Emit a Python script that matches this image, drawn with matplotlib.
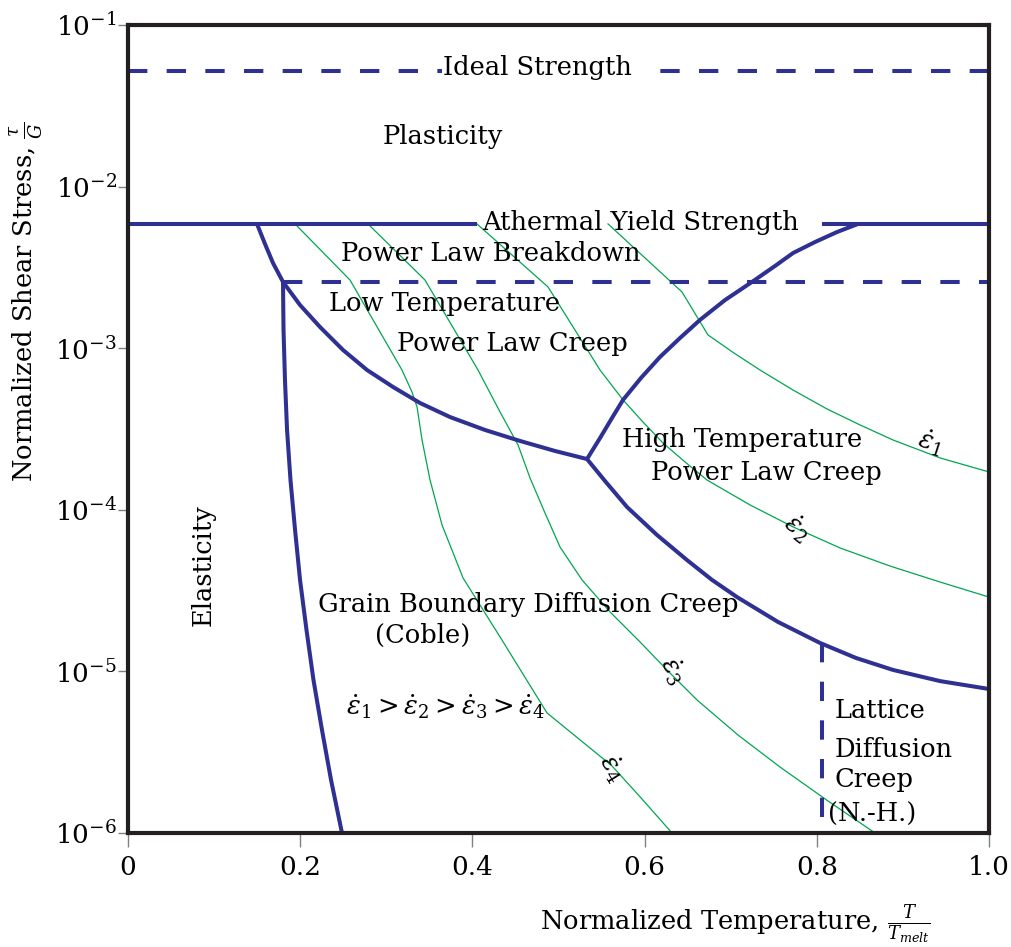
import numpy as np
import matplotlib
matplotlib.use("Agg")
import matplotlib.pyplot as plt
from matplotlib.ticker import NullLocator

plt.rcParams["font.family"] = ["DejaVu Serif"]
plt.rcParams["mathtext.fontset"] = "dejavuserif"

BLUE = "#2e3192"
GREEN = "#00a651"
INK = "#231f20"

# x is T/Tmelt, y values are log10(tau/G)
ideal_logy = -1.285
athermal_logy = -2.231
breakdown_logy = -2.590
ideal_left_x = [0.0, 0.365]
ideal_right_x = [0.615, 1.0]
athermal_left_x = [0.0, 0.405]
athermal_right_x = [0.806, 1.0]
breakdown_x = [0.18, 1.0]

elastic_x = [0.1800, 0.1806, 0.1823, 0.1847, 0.1887, 0.1940, 0.1998,
             0.2073, 0.2154, 0.2253, 0.2358, 0.2485]
elastic_logy = [-2.590, -2.887, -3.197, -3.506, -3.816, -4.125, -4.434,
                -4.744, -5.053, -5.363, -5.672, -6.0]

low_temp_x = [0.1498, 0.1591, 0.1684, 0.1800, 0.1998, 0.2230, 0.2497, 0.2776,
              0.3078, 0.3391, 0.3740, 0.4146, 0.4553, 0.4959, 0.5331]
low_temp_logy = [-2.231, -2.355, -2.473, -2.590, -2.733, -2.869, -3.011, -3.135,
                 -3.240, -3.339, -3.426, -3.506, -3.574, -3.636, -3.686]

high_upper_x = [0.5331, 0.5482, 0.5621, 0.5749, 0.5958, 0.6179, 0.6411, 0.6643,
                0.6934, 0.7247, 0.7515, 0.7724, 0.7979, 0.8235, 0.8479]
high_upper_logy = [-3.686, -3.556, -3.432, -3.320, -3.184, -3.054, -2.937, -2.825,
                   -2.702, -2.590, -2.491, -2.411, -2.343, -2.281, -2.231]

high_lower_x = [0.5331, 0.5540, 0.5796, 0.6144, 0.6492, 0.6783, 0.7073,
                0.7549, 0.8037, 0.8455, 0.8885, 0.9431, 1.0]
high_lower_logy = [-3.686, -3.822, -3.983, -4.156, -4.311, -4.434, -4.540,
                   -4.694, -4.824, -4.917, -4.991, -5.060, -5.109]

lattice_x = [0.806, 0.806]
lattice_logy = [-4.826, -6.0]

# strain-rate contours, fastest (1) to slowest (4)
rate1_x = [0.5575, 0.6434, 0.6736, 0.7038, 0.7340, 0.7724, 0.8118,
           0.8502, 0.8885, 0.9431, 1.0]
rate1_logy = [-2.231, -2.652, -2.918, -3.030, -3.135, -3.259, -3.376,
              -3.475, -3.568, -3.679, -3.766]

rate2_x = [0.4053, 0.4878, 0.5482, 0.5749, 0.5981, 0.6214, 0.6469, 0.6725,
           0.7224, 0.7724, 0.8269, 0.8850, 0.9431, 1.0]
rate2_logy = [-2.231, -2.621, -3.135, -3.320, -3.457, -3.587, -3.704, -3.816,
              -3.970, -4.106, -4.236, -4.348, -4.447, -4.540]

rate3_x = [0.2787, 0.3449, 0.4065, 0.4321, 0.4530, 0.4669, 0.4843, 0.5017,
           0.5273, 0.5598, 0.5947, 0.6272, 0.6609, 0.7085, 0.7573, 0.8130, 0.8676]
rate3_logy = [-2.231, -2.578, -3.135, -3.395, -3.599, -3.803, -4.020, -4.230,
              -4.434, -4.632, -4.818, -4.998, -5.177, -5.394, -5.592, -5.802, -6.0]

rate4_x = [0.1940, 0.2578, 0.3182, 0.3298, 0.3357, 0.3415, 0.3508, 0.3647,
           0.3891, 0.4321, 0.4866, 0.5250, 0.5621, 0.5970, 0.6318]
rate4_logy = [-2.231, -2.578, -3.135, -3.271, -3.364, -3.568, -3.816, -4.094,
              -4.422, -4.787, -5.257, -5.424, -5.585, -5.790, -6.0]

x_ticks = [0.0, 0.2, 0.4, 0.6, 0.8, 1.0]
x_tick_labels = ["0", "0.2", "0.4", "0.6", "0.8", "1.0"]
y_ticks = [1e-6, 1e-5, 1e-4, 1e-3, 1e-2, 1e-1]


def p(v):
    return 10 ** np.asarray(v, dtype=float)


fig = plt.figure(figsize=(10.12, 9.47), dpi=100)
ax = fig.add_axes([0.1265, 0.1204, 0.8508, 0.8532])
ax.set_yscale("log")
ax.set_xlim(0, 1)
ax.set_ylim(1e-6, 1e-1)

FS = 18.5
bold = dict(color=BLUE, lw=2.9, solid_capstyle="butt", solid_joinstyle="round")
dash = dict(color=BLUE, lw=2.9, dashes=(4.8, 4.8), dash_capstyle="butt")
thin = dict(color=GREEN, lw=0.9)

# green strain-rate contours
for xs, ys in [(rate1_x, rate1_logy), (rate2_x, rate2_logy),
               (rate3_x, rate3_logy), (rate4_x, rate4_logy)]:
    ax.plot(xs, p(ys), **thin)

# mechanism boundaries
ax.plot(ideal_left_x, p([ideal_logy] * 2), **dash)
ax.plot(ideal_right_x[::-1], p([ideal_logy] * 2), **dash)
ax.plot(athermal_left_x, p([athermal_logy] * 2), **bold)
ax.plot(athermal_right_x, p([athermal_logy] * 2), **bold)
ax.plot(breakdown_x, p([breakdown_logy] * 2), **dash)
ax.plot(elastic_x, p(elastic_logy), **bold)
ax.plot(low_temp_x, p(low_temp_logy), **bold)
ax.plot(high_upper_x, p(high_upper_logy), **bold)
ax.plot(high_lower_x, p(high_lower_logy), **bold)
ax.plot(lattice_x, p(lattice_logy), **dash)


def label(x, ly, s, **kw):
    kw.setdefault("ha", "center")
    kw.setdefault("va", "center")
    ax.text(x, 10 ** ly, s, fontsize=FS, color="black", **kw)


# region labels
label(0.476, -1.266, "Ideal Strength")
label(0.366, -1.687, "Plasticity")
label(0.5947, -2.22, "Athermal Yield Strength")
label(0.4216, -2.411, "Power Law Breakdown")
label(0.368, -2.726, "Low Temperature")
label(0.446, -2.974, "Power Law Creep")
label(0.713, -3.568, "High Temperature")
label(0.741, -3.772, "Power Law Creep")
label(0.0871, -4.342, "Elasticity", rotation=90)
label(0.4646, -4.589, "Grain Boundary Diffusion Creep")
label(0.3426, -4.775, "(Coble)")
label(0.3693, -5.22,
      r"$\dot{\varepsilon}_1 > \dot{\varepsilon}_2 > \dot{\varepsilon}_3 > \dot{\varepsilon}_4$")
label(0.8211, -5.245, "Lattice", ha="left")
label(0.8211, -5.486, "Diffusion", ha="left")
label(0.8211, -5.666, "Creep", ha="left")
label(0.8130, -5.882, "(N.-H.)", ha="left")

label(0.9315, -3.58, r"$\dot{\varepsilon}_1$", rotation=-18)
label(0.777, -4.113, r"$\dot{\varepsilon}_2$", rotation=-38)
label(0.633, -4.991, r"$\dot{\varepsilon}_3$", rotation=-60)
label(0.5621, -5.598, r"$\dot{\varepsilon}_4$", rotation=-58)

# axes styling
for sp in ax.spines.values():
    sp.set_linewidth(3)
    sp.set_color(INK)
    sp.set_zorder(5)

ax.set_xticks(x_ticks)
ax.set_xticklabels(x_tick_labels)
ax.set_yticks(y_ticks)
ax.yaxis.set_minor_locator(NullLocator())
ax.tick_params(axis="x", length=10, width=1, color="grey", pad=6, labelsize=19)
ax.tick_params(axis="y", length=7, width=1, color="grey", pad=1, labelsize=19)

ax.set_xlabel(r"Normalized Temperature, $\frac{T}{T_{melt}}$", fontsize=FS)
ax.xaxis.set_label_coords(0.705, -0.085)
ax.set_ylabel(r"Normalized Shear Stress, $\frac{\tau}{G}$", fontsize=FS)
ax.yaxis.set_label_coords(-0.097, 0.657)

fig.savefig("out.png", dpi=100)
